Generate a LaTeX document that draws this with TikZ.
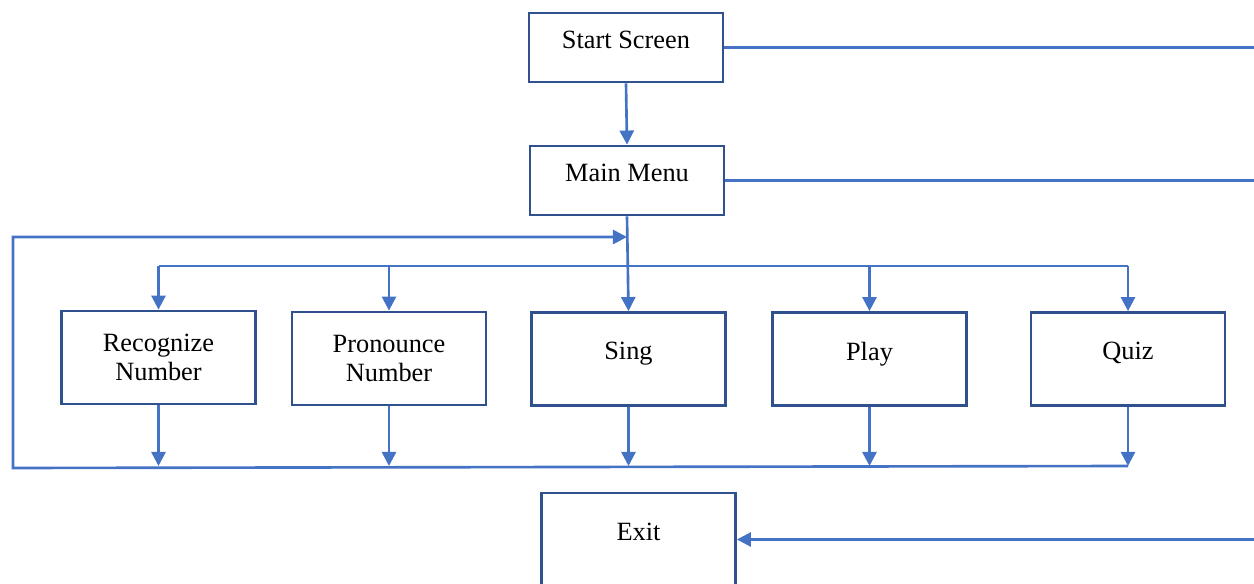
\documentclass[tikz,border=0pt]{standalone}
\usepackage{fontspec}
\setmainfont{Liberation Serif}
\usepackage{xcolor}
\usetikzlibrary{arrows.meta,calc}
\definecolor{linkblue}{RGB}{68,114,196}
\definecolor{framblue}{RGB}{47,82,143}

\begin{document}
\begin{tikzpicture}[x=0.02cm,y=-0.02cm,>={Triangle[width=8pt,length=8pt]},
    screen/.style={draw=framblue,line width=1.6pt,minimum width=3.88cm,
      minimum height=1.38cm,align=center,font=\fontsize{15}{16.5}\selectfont},
    option/.style={screen,minimum height=1.86cm},
    raised/.style={text depth=9pt},
    link/.style={draw=linkblue,line width=1.5pt},
    arr/.style={link,->}]
    \useasboundingbox (0,0) rectangle (1254,584);
    \coordinate (edge) at (1254,0);
    \coordinate (bar) at (0,266);
    \coordinate (bottom) at (0,466);
    \coordinate (loopbl) at (13,468);
    \coordinate (looptl) at (13,237);
    % Bildschirme
    \node[screen,raised] (start) at (626,47.5) {Start Screen};
    \node[screen,raised] (menu) at (627,180.5) {Main Menu};
    \node[option] (recog) at (158.5,357.5) {Recognize\\Number};
    \node[option] (pron) at (389,358.5) {Pronounce\\Number};
    \node[option,raised] (sing) at (628.5,359) {Sing};
    \node[option,raised] (play) at (869.5,359) {Play};
    \node[option,raised] (quiz) at (1128,359) {Quiz};
    \node[option,raised] (exit) at (638.5,539.5) {Exit};
    % Verbindungen
    \draw[arr] (start.south) -- (menu.north);
    \draw[link] (start.east) -- (start.east -| edge);
    \draw[link] (menu.east) -- (menu.east -| edge);
    \draw[arr] (exit.east -| edge) -- (exit.east);
    \draw[arr] (menu.south) -- (sing.north);
    \draw[link] (recog.north |- bar) -- (quiz.north |- bar);
    \foreach \n in {recog,pron,play,quiz}{
      \draw[arr] (\n.north |- bar) -- (\n.north);
    }
    \foreach \n in {recog,pron,sing,play,quiz}{
      \draw[arr] (\n.south) -- (\n.south |- bottom);
    }
    \draw[arr] (quiz.south |- bottom) -- (loopbl) -- (looptl) -- (menu.south |- looptl);
  \end{tikzpicture}
\end{document}
